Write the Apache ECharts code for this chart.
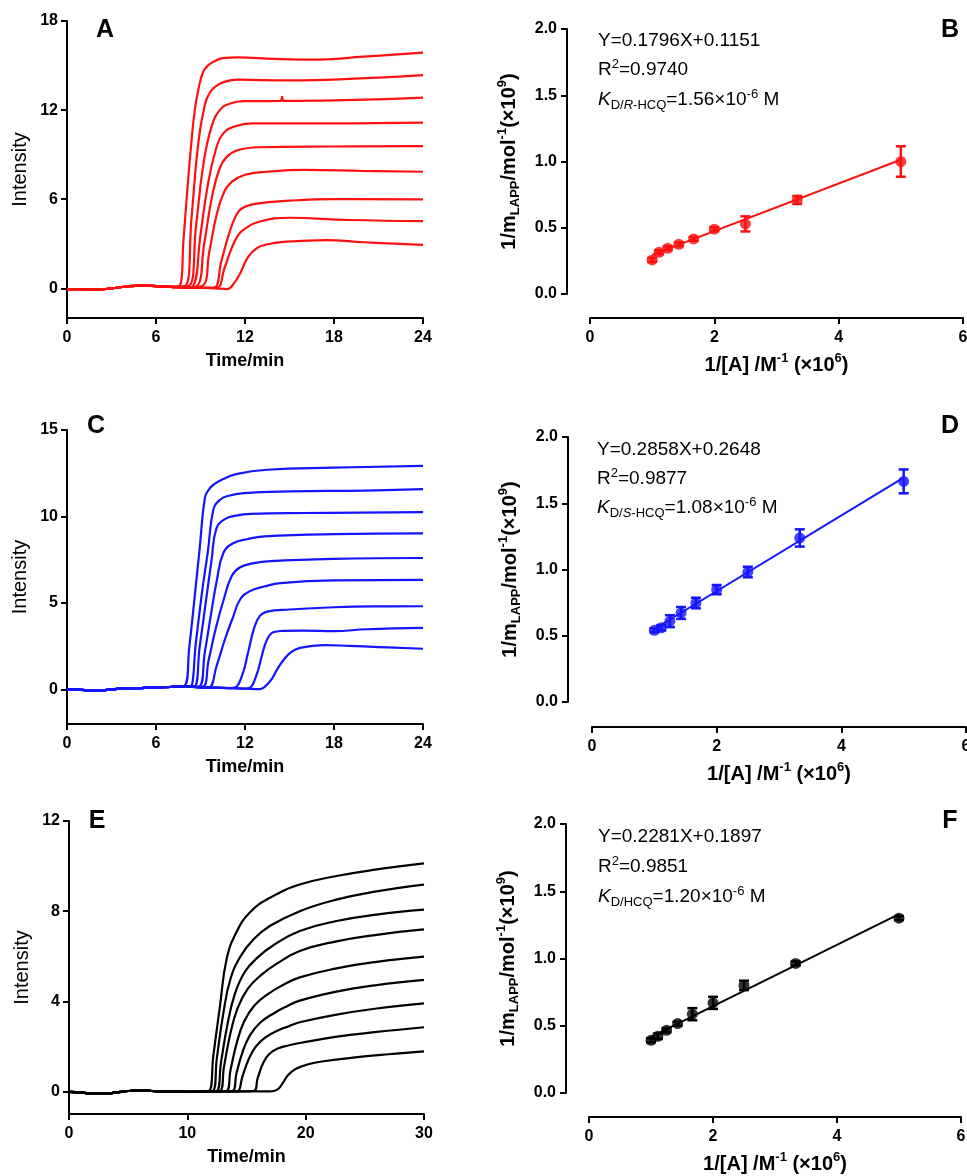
<!DOCTYPE html>
<html>
<head>
<meta charset="utf-8">
<title>Kinetic curves and double-reciprocal plots</title>
<script src="https://cdn.jsdelivr.net/npm/echarts@6/dist/echarts.min.js"></script>
<style>
  html, body { margin: 0; padding: 0; background: #fff; }
  #chart { width: 967px; height: 1176px; }
</style>
</head>
<body>
<div id="chart"></div>
<script>
// ---------- values ----------
// A / C / E : intensity vs time, one baseline shared by all nine curves of a panel
const baseA = [[0,-0.05],[1,-0.05],[2,-0.1],[3,0.0],[4,0.12],[5,0.18],[6,0.15],[7,0.1],[8,0.05],[9,0.03],[10,0.0],[11,-0.05]];
const curvesA = [
  [[7.62,0.2],[7.85,3.2],[8.11,6.6],[8.4,10.0],[8.63,12.1],[8.9,13.6],[9.19,14.6],[9.5,15.0],[9.87,15.25],[10.5,15.5],[11.5,15.55],[14,15.45],[17,15.4],[20,15.6],[24,15.87]],
  [[7.96,0.15],[8.4,4.8],[8.85,9.8],[9.3,12.4],[9.65,13.2],[9.98,13.57],[10.6,13.9],[11.5,14.05],[15,14.0],[19,14.1],[24,14.36]],
  [[8.2,0.15],[8.7,4.2],[9.2,8.4],[9.75,10.9],[10.3,12.0],[11.0,12.45],[12.0,12.6],[14.4,12.62],[14.5,12.9],[14.6,12.62],[18,12.65],[24,12.84]],
  [[8.5,0.15],[9.0,3.6],[9.5,7.0],[10.05,9.4],[10.54,10.43],[11.3,10.9],[12.5,11.1],[18,11.1],[24,11.15]],
  [[8.75,0.15],[9.25,3.0],[9.8,6.3],[10.3,8.1],[10.77,8.85],[11.5,9.3],[13,9.5],[18,9.55],[24,9.58]],
  [[9.1,0.15],[9.6,2.5],[10.1,5.0],[10.6,6.5],[11.1,7.17],[12.0,7.65],[13.5,7.85],[16,7.97],[20,7.9],[24,7.85]],
  [[9.9,0.05],[10.4,1.8],[10.9,3.6],[11.35,4.8],[11.78,5.37],[12.8,5.7],[15,5.9],[18,6.0],[24,5.99]],
  [[10.1,0.05],[10.6,1.3],[11.1,2.7],[11.55,3.6],[12.0,4.02],[13.0,4.5],[15,4.75],[19,4.6],[24,4.53]],
  [[10.8,-0.05],[11.3,0.4],[11.67,1.0],[12.2,2.1],[12.8,2.7],[13.46,2.95],[14.8,3.14],[17.5,3.25],[20,3.1],[24,2.92]]
];

const baseC = [[0,0],[1,-0.03],[2,-0.08],[3,0],[4,0.05],[5,0.08],[6,0.12],[7,0.15],[8,0.18],[9,0.12],[10,0.1],[11,0.08],[12,0.05],[13,0]];
const curvesC = [
  [[7.9,0.2],[8.25,2.5],[8.6,5.3],[8.95,8.2],[9.3,11.1],[9.6,11.6],[9.9,11.85],[10.5,12.15],[11.4,12.45],[13.5,12.7],[18,12.82],[24,12.92]],
  [[8.3,0.15],[8.7,2.8],[9.1,5.6],[9.5,8.0],[9.87,10.4],[10.3,10.95],[10.9,11.2],[11.9,11.35],[15,11.45],[20,11.5],[24,11.58]],
  [[8.55,0.15],[8.95,2.5],[9.35,5.0],[9.75,7.5],[10.07,9.3],[10.65,9.85],[11.4,10.05],[12.4,10.15],[16,10.2],[24,10.25]],
  [[8.85,0.15],[9.3,2.2],[9.7,4.3],[10.1,6.3],[10.55,7.9],[11.2,8.45],[12.2,8.7],[13.3,8.85],[18,8.98],[24,9.02]],
  [[9.1,0.15],[9.55,1.7],[10.05,3.6],[10.6,5.3],[11.1,6.55],[11.65,7.05],[12.6,7.3],[13.7,7.42],[18,7.55],[24,7.6]],
  [[9.55,0.12],[10.1,1.4],[10.65,2.9],[11.2,4.2],[11.67,5.2],[12.3,5.67],[13.3,5.95],[14.4,6.15],[18,6.3],[24,6.33]],
  [[11.3,0.1],[11.8,0.8],[12.2,2.1],[12.6,3.5],[13.0,4.25],[13.5,4.5],[15,4.62],[18,4.75],[21,4.8],[24,4.81]],
  [[12.3,0.08],[12.8,0.9],[13.15,2.0],[13.5,2.9],[13.9,3.3],[14.5,3.38],[16,3.4],[18,3.37],[20.2,3.48],[24,3.56]],
  [[13.0,0.02],[13.4,0.2],[13.8,0.6],[14.2,1.2],[14.6,1.7],[15.1,2.15],[15.7,2.4],[17.3,2.56],[19,2.52],[21,2.45],[24,2.35]]
];

const baseE = [[0,-0.02],[1,-0.04],[2,-0.1],[3,-0.1],[4,-0.04],[5,0.02],[6,0.05],[7,0.02],[8,0],[9,0],[10,-0.02],[12,0],[14,0],[16,0],[17,0]];
const curvesE = [
  [[11.8,0.02],[12.2,1.6],[12.76,3.8],[13.33,5.9],[14.18,7.1],[15.3,7.95],[17,8.6],[19.5,9.18],[22.5,9.55],[26,9.85],[30,10.12]],
  [[12.13,0.02],[12.5,1.5],[13.05,3.5],[13.65,5.0],[14.5,6.0],[15.6,6.75],[17,7.35],[19.5,8.0],[22.5,8.5],[26,8.88],[30,9.18]],
  [[12.5,0.02],[12.85,1.3],[13.4,3.0],[14.0,4.3],[14.85,5.3],[15.95,5.95],[17.3,6.5],[19.5,7.12],[22.5,7.55],[26,7.85],[30,8.07]],
  [[12.75,0.02],[13.1,1.1],[13.65,2.6],[14.25,3.7],[15.1,4.55],[16.2,5.15],[17.5,5.65],[19.5,6.23],[22.5,6.65],[26,6.95],[30,7.19]],
  [[13.3,0.02],[13.65,0.95],[14.2,2.2],[14.8,3.1],[15.65,3.8],[16.75,4.3],[18,4.7],[19.5,5.06],[22.5,5.45],[26,5.75],[30,5.98]],
  [[13.8,0.02],[14.15,0.8],[14.7,1.8],[15.3,2.5],[16.15,3.05],[17.25,3.45],[18.3,3.75],[19.5,4.03],[22.5,4.42],[26,4.72],[30,4.95]],
  [[14.3,0.02],[14.65,0.65],[15.2,1.45],[15.8,2.0],[16.6,2.4],[17.7,2.72],[18.6,2.9],[19.5,3.07],[22.5,3.4],[26,3.68],[30,3.91]],
  [[15.58,0.02],[15.95,0.6],[16.4,1.25],[16.9,1.65],[17.7,1.92],[18.6,2.05],[19.5,2.15],[22.5,2.42],[26,2.64],[30,2.85]],
  [[17.3,0.02],[17.7,0.12],[18.1,0.4],[18.5,0.72],[19.0,0.95],[19.5,1.08],[20.3,1.22],[21.5,1.34],[24,1.5],[27,1.65],[30,1.78]]
];

// B / D / F : 1/m_LAPP vs 1/[A]
const invConc = [1, 1.111, 1.25, 1.429, 1.667, 2, 2.5, 3.333, 5];
const yB = [0.257, 0.315, 0.345, 0.375, 0.416, 0.489, 0.529, 0.71, 1.0];
const errB = [0.015, 0.015, 0.015, 0.015, 0.015, 0.015, 0.057, 0.03, 0.115];
const fitB = [[1, 0.295], [5, 1.013]];
const yD = [0.541, 0.56, 0.61, 0.672, 0.747, 0.848, 0.981, 1.238, 1.665];
const errD = [0.015, 0.02, 0.045, 0.045, 0.04, 0.035, 0.04, 0.065, 0.09];
const fitD = [[1, 0.551], [5, 1.694]];
const yF = [0.392, 0.422, 0.466, 0.516, 0.586, 0.67, 0.80, 0.963, 1.30];
const errF = [0.015, 0.02, 0.015, 0.015, 0.045, 0.045, 0.035, 0.015, 0.015];
const fitF = [[1, 0.418], [5, 1.33]];

const ticksA = [0, 6, 12, 18];
const ticksC = [0, 5, 10, 15];
const ticksE = [0, 4, 8, 12];

// ---------- chart ----------
const FONT = '"Liberation Sans", Arial, Helvetica, sans-serif';
const RED = '#ff1010', BLUE = '#1414ff', BLACK = '#000000';

const tickLabel = { color: '#000', fontSize: 16, fontWeight: 'bold', fontFamily: FONT };
const axLine = { onZero: false, lineStyle: { color: '#000', width: 2 } };
const axTick = { length: 6, lineStyle: { color: '#000', width: 2 } };

const rich = {
  n: { fontSize: 20, fontWeight: 'bold', fontFamily: FONT, color: '#000', lineHeight: 26 },
  sub: { fontSize: 13, fontWeight: 'bold', fontFamily: FONT, color: '#000', verticalAlign: 'bottom', lineHeight: 14 },
  sup: { fontSize: 13, fontWeight: 'bold', fontFamily: FONT, color: '#000', verticalAlign: 'top', lineHeight: 14 }
};
const noteRich = {
  t: { fontSize: 19, fontFamily: FONT, color: '#333', lineHeight: 24 },
  i: { fontSize: 19, fontFamily: FONT, fontStyle: 'italic', color: '#333', lineHeight: 24 },
  sub: { fontSize: 13, fontFamily: FONT, color: '#333', verticalAlign: 'bottom', lineHeight: 13 },
  subi: { fontSize: 13, fontFamily: FONT, fontStyle: 'italic', color: '#333', verticalAlign: 'bottom', lineHeight: 13 },
  sup: { fontSize: 13, fontFamily: FONT, color: '#333', verticalAlign: 'top', lineHeight: 13 }
};

const grids = [
  { left: 67, top: 21, width: 356, height: 297 },   // A
  { left: 590, top: 29, width: 373, height: 265 },  // B
  { left: 67, top: 430, width: 356, height: 294 },  // C
  { left: 592, top: 437, width: 374, height: 265 }, // D
  { left: 69, top: 821, width: 355, height: 293 },  // E
  { left: 589, top: 824, width: 372, height: 269 }  // F
].map(g => Object.assign({ outerBoundsMode: 'none', containLabel: false }, g));

function timeX(gi, max, interval) {
  return {
    gridIndex: gi, type: 'value', min: 0, max: max, interval: interval,
    name: 'Time/min', nameLocation: 'middle', nameGap: 34,
    nameTextStyle: { fontSize: 18, fontWeight: 'bold', color: '#000', fontFamily: FONT },
    axisLine: axLine, axisTick: axTick,
    axisLabel: Object.assign({ margin: 12 }, tickLabel),
    splitLine: { show: false }
  };
}
function intensityY(gi, min, max, ticks) {
  return {
    gridIndex: gi, type: 'value', min: min, max: max,
    name: 'Intensity', nameLocation: 'middle', nameRotate: 90, nameGap: 37,
    nameTextStyle: { fontSize: 20, color: '#000', fontFamily: FONT },
    axisLine: axLine,
    axisTick: Object.assign({ customValues: ticks }, axTick),
    axisLabel: Object.assign({ margin: 9, customValues: ticks }, tickLabel),
    splitLine: { show: false }
  };
}
function concX(gi, offset) {
  return {
    gridIndex: gi, type: 'value', min: 0, max: 6, interval: 2, offset: offset,
    name: '{n|1/[A] /M}{sup|-1}{n| (×10}{sup|6}{n|)}', nameLocation: 'middle', nameGap: 34,
    nameTextStyle: { rich: rich },
    axisLine: axLine, axisTick: axTick,
    axisLabel: Object.assign({ margin: 12 }, tickLabel),
    splitLine: { show: false }
  };
}
function invMY(gi, offset) {
  return {
    gridIndex: gi, type: 'value', min: 0, max: 2, interval: 0.5, offset: offset,
    name: '{n|1/m}{sub|LAPP}{n|/mol}{sup|-1}{n|(×10}{sup|9}{n|)}',
    nameLocation: 'middle', nameRotate: 90, nameGap: 45,
    nameTextStyle: { rich: rich },
    axisLine: axLine, axisTick: axTick,
    axisLabel: Object.assign({ margin: 10, formatter: v => v.toFixed(1) }, tickLabel),
    splitLine: { show: false }
  };
}

function kinetic(gi, base, curves, color) {
  return curves.map(c => ({
    type: 'line', xAxisIndex: gi, yAxisIndex: gi,
    data: base.filter(p => p[0] < c[0][0] - 0.2).concat(c),
    showSymbol: false, smooth: 0.45, silent: true,
    lineStyle: { color: color, width: 2.2 }
  }));
}

function binding(gi, ys, errs, fit, color) {
  const pts = invConc.map((x, i) => [x, ys[i], errs[i]]);
  return [
    {
      type: 'line', xAxisIndex: gi, yAxisIndex: gi, data: fit, showSymbol: false, silent: true,
      lineStyle: { color: color, width: 2 }
    },
    {
      type: 'custom', xAxisIndex: gi, yAxisIndex: gi, data: pts, silent: true,
      encode: { x: 0, y: 1 },
      renderItem: (params, api) => {
        const x = api.value(0), y = api.value(1), e = api.value(2);
        const hi = api.coord([x, y + e]), lo = api.coord([x, y - e]);
        const w = 5, st = { stroke: color, lineWidth: 2.5 };
        return {
          type: 'group', children: [
            { type: 'line', shape: { x1: hi[0], y1: hi[1], x2: lo[0], y2: lo[1] }, style: st },
            { type: 'line', shape: { x1: hi[0] - w, y1: hi[1], x2: hi[0] + w, y2: hi[1] }, style: st },
            { type: 'line', shape: { x1: lo[0] - w, y1: lo[1], x2: lo[0] + w, y2: lo[1] }, style: st }
          ]
        };
      }
    },
    {
      type: 'scatter', xAxisIndex: gi, yAxisIndex: gi, data: pts.map(p => [p[0], p[1]]),
      symbol: 'circle', symbolSize: 11, itemStyle: { color: color }, silent: true, z: 4
    }
  ];
}

function letter(ch, x, y) {
  return { type: 'text', x: x, y: y, style: { text: ch, fill: '#000', fontSize: 25, fontWeight: 'bold', fontFamily: FONT, align: 'center', verticalAlign: 'middle' } };
}
function note(x, y, text) {
  return { type: 'text', x: x, y: y, style: { text: text, rich: noteRich, align: 'left', verticalAlign: 'middle' } };
}

const option = {
  backgroundColor: '#fff',
  animation: false,
  grid: grids,
  xAxis: [timeX(0, 24, 6), concX(1, 24), timeX(2, 24, 6), concX(3, 25), timeX(4, 30, 10), concX(5, 24)],
  yAxis: [intensityY(0, -2, 18, ticksA), invMY(1, 23), intensityY(2, -2, 15, ticksC), invMY(3, 24), intensityY(4, -1, 12, ticksE), invMY(5, 23)],
  series: [].concat(
    kinetic(0, baseA, curvesA, RED),
    binding(1, yB, errB, fitB, RED),
    kinetic(2, baseC, curvesC, BLUE),
    binding(3, yD, errD, fitD, BLUE),
    kinetic(4, baseE, curvesE, BLACK),
    binding(5, yF, errF, fitF, BLACK)
  ),
  graphic: [
    letter('A', 105, 30), letter('B', 950, 30),
    letter('C', 96, 426), letter('D', 950, 426),
    letter('E', 97, 821), letter('F', 950, 821),
    note(598, 41, '{t|Y=0.1796X+0.1151}'),
    note(598, 70, '{t|R}{sup|2}{t|=0.9740}'),
    note(598, 100, '{i|K}{sub|D/}{subi|R}{sub|-HCQ}{t|=1.56×10}{sup|-6}{t| M}'),
    note(597, 450, '{t|Y=0.2858X+0.2648}'),
    note(597, 479, '{t|R}{sup|2}{t|=0.9877}'),
    note(597, 508, '{i|K}{sub|D/}{subi|S}{sub|-HCQ}{t|=1.08×10}{sup|-6}{t| M}'),
    note(598, 837, '{t|Y=0.2281X+0.1897}'),
    note(598, 867, '{t|R}{sup|2}{t|=0.9851}'),
    note(598, 897, '{i|K}{sub|D/HCQ}{t|=1.20×10}{sup|-6}{t| M}')
  ]
};

const chart = echarts.init(document.getElementById('chart'), null, { renderer: 'canvas' });
chart.setOption(option);
</script>
</body>
</html>
